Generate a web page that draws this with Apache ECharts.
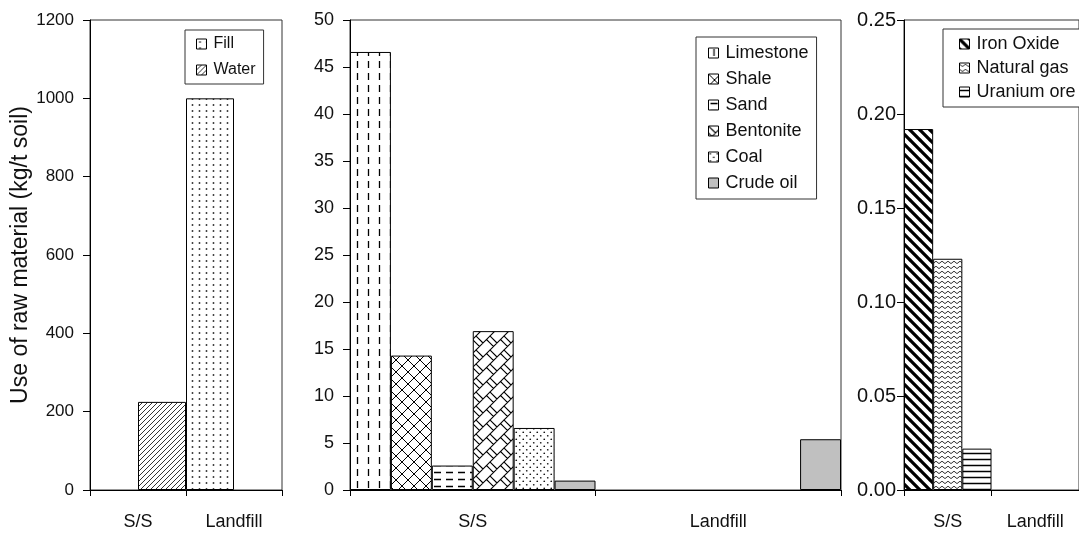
<!DOCTYPE html>
<html>
<head>
<meta charset="utf-8">
<script src="https://cdn.jsdelivr.net/npm/echarts@6/dist/echarts.min.js"></script>
<style>
  html, body { margin: 0; padding: 0; background: #fff; }
  #main { width: 1079px; height: 541px; }
</style>
</head>
<body>
<div id="main"></div>
<script>
var categories = ['S/S', 'Landfill'];

// panel 1 (kg/t soil)
var fillVals = [null, 1000];
var waterVals = [225, null];

// panel 2
var limestoneVals = [46.6, null];
var shaleVals = [14.3, null];
var sandVals = [2.6, null];
var bentoniteVals = [16.9, null];
var coalVals = [6.6, null];
var crudeOilVals = [1.0, 5.4];

// panel 3
var ironOxideVals = [0.192, null];
var naturalGasVals = [0.123, null];
var uraniumVals = [0.022, null];

var FONT = '"Liberation Sans", Arial, sans-serif';

// small canvas tiles used as bar fill patterns
function tile(w, h, draw) {
  var c = document.createElement('canvas');
  c.width = w;
  c.height = h;
  var ctx = c.getContext('2d');
  ctx.fillStyle = '#fff';
  ctx.fillRect(0, 0, w, h);
  ctx.strokeStyle = '#000';
  ctx.fillStyle = '#000';
  draw(ctx, w, h);
  return { image: c, repeat: 'repeat' };
}

// draw segments repeated on neighbour tiles so lines wrap cleanly
function segs(ctx, w, h, list) {
  ctx.beginPath();
  for (var dx = -w; dx <= w; dx += w) {
    for (var dy = -h; dy <= h; dy += h) {
      list.forEach(function (s) {
        ctx.moveTo(s[0] + dx, s[1] + dy);
        ctx.lineTo(s[2] + dx, s[3] + dy);
      });
    }
  }
  ctx.stroke();
}

function dots(ctx, list, r) {
  list.forEach(function (p) {
    ctx.beginPath();
    ctx.arc(p[0], p[1], r, 0, Math.PI * 2);
    ctx.fill();
  });
}

var patFill = tile(7, 6, function (ctx) {
  ctx.fillStyle = '#333';
  dots(ctx, [[3.5, 3]], 0.95);
});
var patWater = tile(5, 5, function (ctx, w, h) {
  ctx.lineWidth = 0.8;
  segs(ctx, w, h, [[0, h, w, 0]]);
});
var patLimestone = tile(11, 12, function (ctx, w, h) {
  ctx.lineWidth = 1.3;
  segs(ctx, w, h, [[5.5, 1, 5.5, 8]]);
});
var patShale = tile(12, 12, function (ctx, w, h) {
  ctx.lineWidth = 1;
  segs(ctx, w, h, [[0, 0, w, h], [0, h, w, 0]]);
});
var patSand = tile(12, 7, function (ctx, w, h) {
  ctx.lineWidth = 1.5;
  segs(ctx, w, h, [[2, 3.5, 9, 3.5]]);
});
// diagonal brick: long "/" lines with staggered "\" joints
var patBentonite = tile(14, 14, function (ctx, w, h) {
  ctx.lineWidth = 1.1;
  segs(ctx, w, h, [[0, h, w, 0], [0, 0, 7, 7], [10.5, 3.5, 17.5, 10.5]]);
});
var patCoal = tile(7, 7, function (ctx) {
  ctx.fillStyle = '#111';
  dots(ctx, [[1.75, 1.75], [5.25, 5.25]], 0.85);
});
var patIron = tile(10, 10, function (ctx, w, h) {
  ctx.lineWidth = 3.2;
  segs(ctx, w, h, [[0, 0, w, h]]);
});
var patGas = tile(6, 5, function (ctx, w, h) {
  ctx.lineWidth = 0.8;
  segs(ctx, w, h, [[0, 1.2, 3, 3.6], [3, 3.6, 6, 1.2]]);
});
var patUranium = tile(8, 6, function (ctx, w, h) {
  ctx.lineWidth = 1.3;
  segs(ctx, w, h, [[0, 3.5, w, 3.5]]);
});

var grids = [
  { left: 90, top: 20, width: 192, height: 470 },
  { left: 350, top: 20, width: 491, height: 470 },
  { left: 904, top: 20, width: 186, height: 470 }
];
grids.forEach(function (g) {
  g.show = true;
  g.borderColor = '#333';
  g.borderWidth = 1;
  g.backgroundColor = 'transparent';
});

function xAxisFor(i) {
  return {
    type: 'category',
    gridIndex: i,
    data: categories,
    axisLine: { lineStyle: { color: '#000', width: 1 } },
    axisTick: { show: true, alignWithLabel: false, length: 6, lineStyle: { color: '#000' } },
    axisLabel: { color: '#111', fontSize: 18, fontFamily: FONT, margin: 23, interval: 0 }
  };
}

function yAxisFor(i, max, step, decimals, size, margin) {
  return {
    type: 'value',
    gridIndex: i,
    min: 0,
    max: max,
    interval: step,
    splitLine: { show: false },
    axisLine: { show: true, lineStyle: { color: '#000', width: 1 } },
    axisTick: { show: true, length: 7, lineStyle: { color: '#000' } },
    axisLabel: {
      color: '#111', fontSize: size, fontFamily: FONT, margin: margin,
      formatter: function (v) { return v.toFixed(decimals); }
    }
  };
}

function bar(name, vals, pattern, axis) {
  return {
    name: name,
    type: 'bar',
    xAxisIndex: axis,
    yAxisIndex: axis,
    data: vals,
    barGap: '0%',
    barCategoryGap: '0%',
    itemStyle: { color: pattern, borderColor: '#000', borderWidth: 1 }
  };
}

function legendFor(names, left, top, size, gap, pad) {
  return {
    data: names,
    orient: 'vertical',
    left: left,
    top: top,
    backgroundColor: '#fff',
    borderColor: '#333',
    borderWidth: 1,
    borderRadius: 0,
    padding: pad,
    itemWidth: 10,
    itemHeight: 10,
    itemGap: gap,
    icon: 'rect',
    selectedMode: false,
    itemStyle: { borderColor: '#000', borderWidth: 1 },
    textStyle: { color: '#111', fontSize: size, fontFamily: FONT, lineHeight: 18, padding: [0, 0, 0, 2] }
  };
}

var yAxes = [
  yAxisFor(0, 1200, 200, 0, 17, 16),
  yAxisFor(1, 50, 5, 0, 18, 16),
  yAxisFor(2, 0.25, 0.05, 2, 20, 8)
];
yAxes[0].name = 'Use of raw material (kg/t soil)';
yAxes[0].nameLocation = 'middle';
yAxes[0].nameRotate = 90;
yAxes[0].nameGap = 55;
yAxes[0].nameTextStyle = { color: '#111', fontSize: 23, fontFamily: FONT };

var chart = echarts.init(document.getElementById('main'));
chart.setOption({
  animation: false,
  backgroundColor: '#fff',
  grid: grids,
  xAxis: [xAxisFor(0), xAxisFor(1), xAxisFor(2)],
  yAxis: yAxes,
  legend: [
    legendFor(['Fill', 'Water'], 185, 30, 16, 8, [5, 8, 5, 11]),
    legendFor(['Limestone', 'Shale', 'Sand', 'Bentonite', 'Coal', 'Crude oil'], 696, 37, 18, 8, [7, 8, 7, 12]),
    legendFor(['Iron Oxide', 'Natural gas', 'Uranium ore'], 943, 29, 18, 6, [6, 10, 6, 16])
  ],
  series: [
    bar('Fill', fillVals, patFill, 0),
    bar('Water', waterVals, patWater, 0),
    bar('Limestone', limestoneVals, patLimestone, 1),
    bar('Shale', shaleVals, patShale, 1),
    bar('Sand', sandVals, patSand, 1),
    bar('Bentonite', bentoniteVals, patBentonite, 1),
    bar('Coal', coalVals, patCoal, 1),
    bar('Crude oil', crudeOilVals, '#c0c0c0', 1),
    bar('Iron Oxide', ironOxideVals, patIron, 2),
    bar('Natural gas', naturalGasVals, patGas, 2),
    bar('Uranium ore', uraniumVals, patUranium, 2)
  ]
});
</script>
</body>
</html>
